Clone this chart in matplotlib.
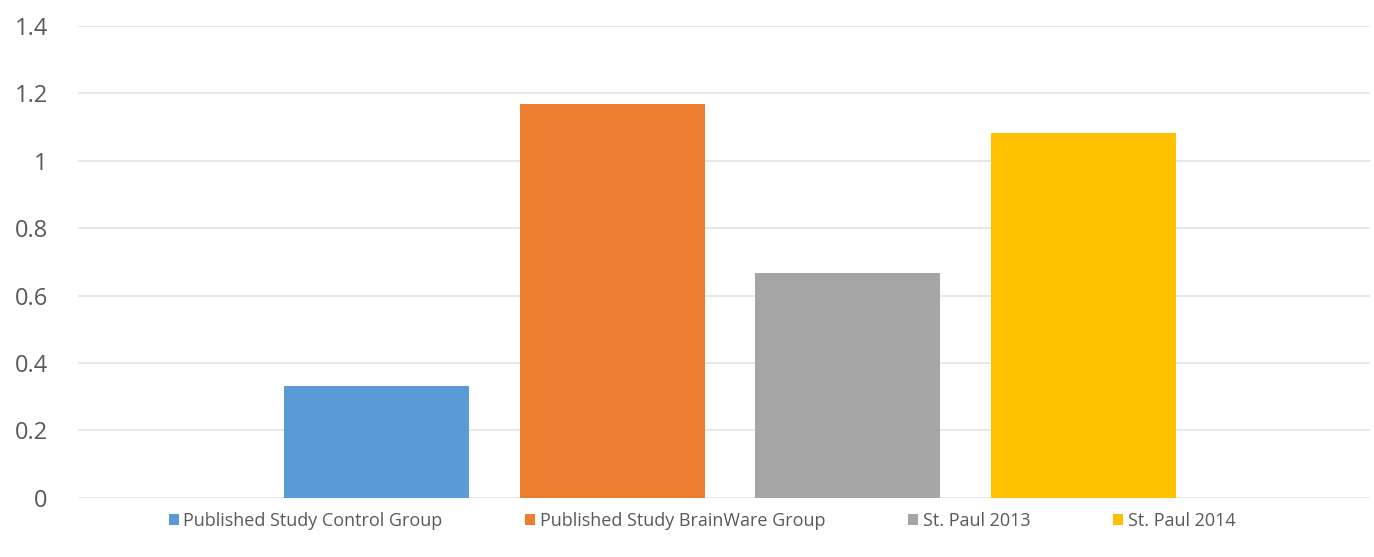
import matplotlib.pyplot as plt

series = ["Published Study Control Group", "Published Study BrainWare Group",
          "St. Paul 2013", "St. Paul 2014"]
values = [0.333, 1.167, 0.667, 1.083]
colors = ["#5B9BD5", "#ED7D31", "#A5A5A5", "#FFC000"]
yticks = [0, 0.2, 0.4, 0.6, 0.8, 1.0, 1.2, 1.4]
ytick_labels = ["0", "0.2", "0.4", "0.6", "0.8", "1", "1.2", "1.4"]

plt.rcParams["font.family"] = ["Open Sans", "DejaVu Sans"]

fig = plt.figure(figsize=(13.74, 5.57), dpi=100)
ax = fig.add_axes([0.057, 0.106, 0.94, 0.848])

for i, (name, v, c) in enumerate(zip(series, values, colors)):
    ax.bar(i, v, width=0.785, color=c, label=name, zorder=3)

ax.set_ylim(0, 1.4)
ax.set_xlim(-1.265, 4.215)
ax.set_yticks(yticks)
ax.set_yticklabels(ytick_labels)
ax.set_xticks([])
ax.grid(axis="y", color="#e3e3e3", linewidth=1.2, zorder=0)
for s in ax.spines.values():
    s.set_visible(False)
ax.tick_params(axis="y", length=0, pad=22, labelsize=17, labelcolor="#595959")

fig.legend(loc="center", ncol=4, frameon=False, fontsize=13,
           labelcolor="#595959", handlelength=0.55, handleheight=0.55,
           handletextpad=0.25, columnspacing=4.6, bbox_to_anchor=(0.511, 0.065))

fig.savefig("out.png", dpi=100)
plt.close(fig)
